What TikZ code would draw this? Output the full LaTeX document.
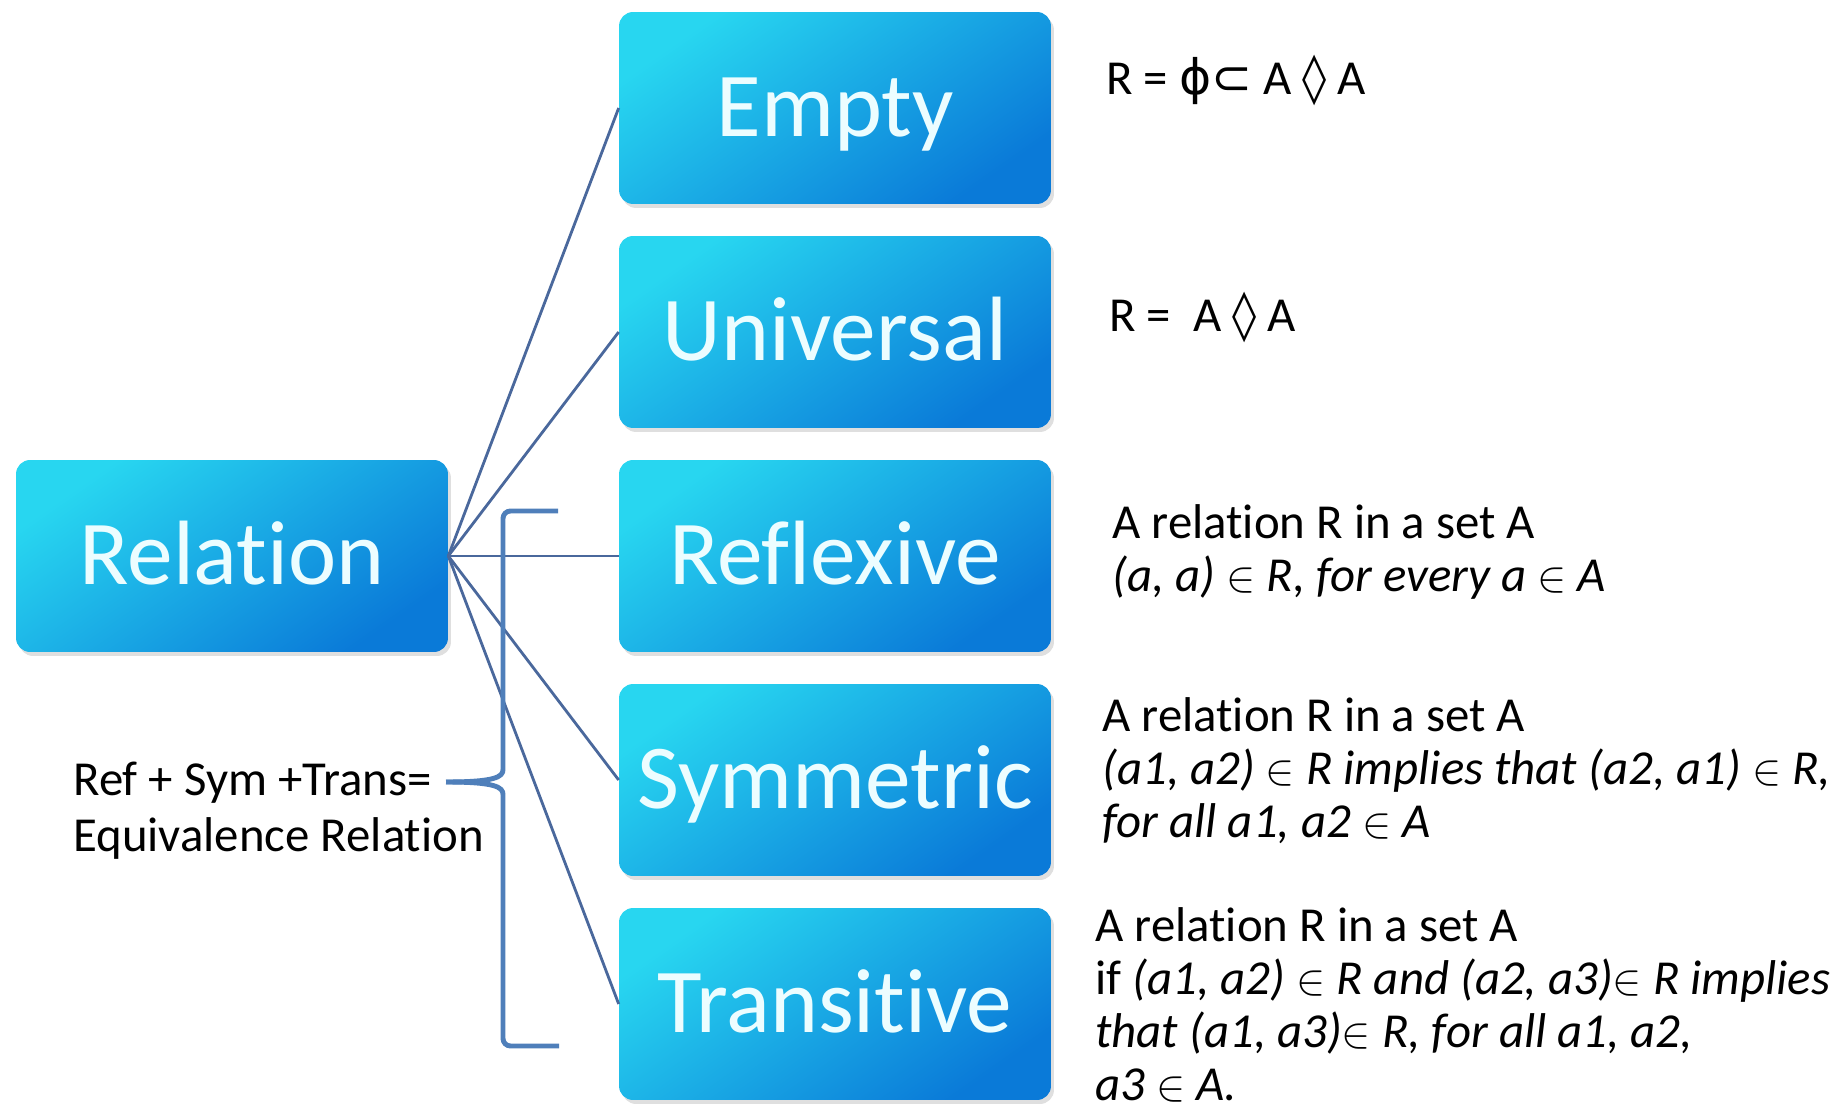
\documentclass[tikz,border=0pt]{standalone}
\usepackage{fontspec}
\setmainfont{Carlito}[Ligatures=NoCommon]
\newfontfamily\symfont{DejaVu Sans}
\usetikzlibrary{positioning}
\usetikzlibrary{shadows}

\definecolor{boxtop}{RGB}{40,214,240}
\definecolor{boxbot}{RGB}{10,122,216}
\definecolor{boxtext}{RGB}{236,253,255}
\definecolor{linkblue}{RGB}{74,104,156}
\definecolor{braceblue}{RGB}{79,127,186}

\tikzset{
  relbox/.style={rectangle, rounded corners=0.28cm, minimum width=8.64cm, minimum height=3.84cm,
    top color=boxtop, bottom color=boxbot, shading angle=35, text=boxtext, inner sep=0pt,
    font=\fontsize{52}{56}\selectfont, text height=33pt, text depth=0pt,
    drop shadow={opacity=0.25, shadow xshift=0.6mm, shadow yshift=-0.8mm}},
  link/.style={linkblue, line width=1.6pt},
  bracket/.style={braceblue, line width=2.8pt, rounded corners=0.15cm},
  deftext/.style={anchor=base west, align=left, inner sep=0pt, font=\fontsize{27.8}{30}\selectfont},
}

\begin{document}
\begin{tikzpicture}[x=0.02cm, y=-0.02cm]
\useasboundingbox (0,0) rectangle (1839,1114);

% boxes
\node[relbox] (relation) at (232,556) {Relation};
\node[relbox] (empty) at (835,108) {Empty};
\node[relbox] (universal) at (835,332) {Universal};
\node[relbox] (reflexive) at (835,556) {Reflexive};
\node[relbox] (symmetric) at (835,780) {Symmetric};
\node[relbox] (transitive) at (835,1004) {Transitive};

% links
\foreach \k in {empty,universal,reflexive,symmetric,transitive}
  \draw[link] (relation.east) -- (\k.west);

% brace
\coordinate (bracetip) at (446,782);
\draw[bracket] (558,511) -- (503,511) -- (503,762) .. controls (503,777) and (495,782) .. (bracetip);
\draw[bracket] (bracetip) .. controls (495,782) and (503,787) .. (503,802) -- (503,1046) -- (559,1046);

% base = last line
\node[deftext, font=\fontsize{27.8}{31.7}\selectfont] (equiv) at (73,851) {Ref + Sym +Trans=\\Equivalence Relation};

% definitions
\node[deftext] (emptydef) at (1106,95) {R = {\symfont ϕ⊂} A {\symfont ◊} A};
\node[deftext] (universaldef) at (1109,332) {R =\ \ A {\symfont ◊} A};
\node[deftext] (reflexivedef) at (1112,591) {A relation R in a set A\\\textit{(a, a) $\in$ R, for every a $\in$ A}};
\node[deftext] (symmetricdef) at (1102,837) {A relation R in a set A\\\textit{(a1, a2) $\in$ R implies that (a2, a1) $\in$ R,}\\\textit{for all a1, a2 $\in$ A}};
\node[deftext] (transitivedef) at (1095,1100) {A relation R in a set A\\if \textit{(a1, a2) $\in$ R and (a2, a3)$\in$ R implies}\\\textit{that (a1, a3)$\in$ R, for all a1, a2,}\\\textit{a3 $\in$ A.}};

\end{tikzpicture}
\end{document}
